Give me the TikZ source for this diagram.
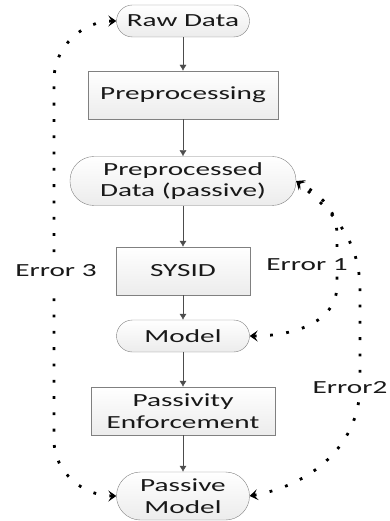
\documentclass[tikz,border=0pt]{standalone}
\usepackage{fontspec}
\setmainfont{Carlito}[FakeStretch=1.58]
\usepackage{tikz}
\usetikzlibrary{arrows.meta}

\begin{document}
\begin{tikzpicture}[x=1pt,y=-1pt,
	every node/.style={font=\fontsize{18.5}{21.5}\selectfont, text=black!90, align=center},
	proc/.style={draw=gray, top color=white, bottom color=gray!15, minimum height=48pt, inner sep=0pt},
	term/.style={draw=gray, top color=white, bottom color=gray!15, inner sep=0pt},
	flow/.style={draw=gray!60!black, -{Latex[length=6pt,width=7pt]}},
	errline/.style={line width=2.8pt, dash pattern=on 2.8pt off 13.5pt, {Stealth[length=8pt,width=11pt,inset=3.5pt]}-{Stealth[length=8pt,width=11pt,inset=3.5pt]}},
	errlabel/.style={fill=white, inner xsep=2pt, inner ysep=9pt}]
	\useasboundingbox (0,0) rectangle (389,521);
	% main chain
	\node[term, minimum width=133pt, minimum height=32pt, rounded corners=16pt] (raw) at (183,21) {Raw Data};
	\node[proc, minimum width=190pt] (prep) at (183,95) {Preprocessing};
	\node[term, minimum width=226pt, minimum height=49pt, rounded corners=24pt] (pdata) at (183,181) {Preprocessed\\Data (passive)};
	\node[proc, minimum width=134pt] (sysid) at (183,271) {SYSID};
	\node[term, minimum width=133pt, minimum height=32pt, rounded corners=16pt] (model) at (183,336) {Model};
	\node[proc, minimum width=184pt] (enforce) at (183,411) {Passivity\\Enforcement};
	\node[term, minimum width=133pt, minimum height=48pt, rounded corners=24pt] (pmodel) at (183,496) {Passive\\Model};
	\draw[flow] (raw) -- (prep);
	\draw[flow] (prep) -- (pdata);
	\draw[flow] (pdata) -- (sysid);
	\draw[flow] (sysid) -- (model);
	\draw[flow] (model) -- (enforce);
	\draw[flow] (enforce) -- (pmodel);
	% error feedback
	\draw[errline] (pmodel.west) to[out=180,in=-90] (54,440) -- (54,80) to[out=90,in=180] (raw.west);
	\draw[errline] (model.east) to[out=0,in=-90] (337,285) -- (337,235) to[out=90,in=-30] (pdata.east);
	\draw[errline] (pmodel.east) to[out=10,in=-90] (360,385) -- (360,290) to[out=90,in=-40] (pdata.east);
	\node[errlabel] (err3) at (56,271) {Error 3};
	\node[errlabel, inner ysep=3pt] (err1) at (307,265) {Error 1};
	\node[errlabel, inner ysep=4pt] (err2) at (350,388) {Error2};
\end{tikzpicture}
\end{document}
